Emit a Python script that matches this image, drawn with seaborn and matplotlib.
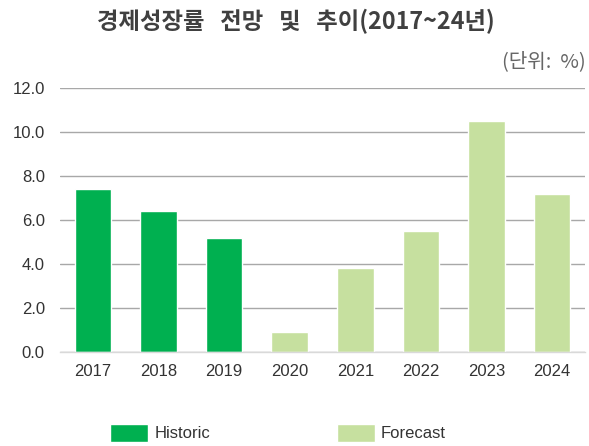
import matplotlib
matplotlib.use("Agg")
import matplotlib.pyplot as plt
from matplotlib.patches import Patch
import seaborn as sns
import pandas as pd

years = ["2017", "2018", "2019", "2020", "2021", "2022", "2023", "2024"]
growth = [7.4, 6.4, 5.2, 0.9, 3.8, 5.5, 10.5, 7.2]
kinds = ["Historic", "Historic", "Historic", "Forecast", "Forecast", "Forecast", "Forecast", "Forecast"]
yticks = [0, 2, 4, 6, 8, 10, 12]

colors = {"Historic": "#00b050", "Forecast": "#c6e09f"}

sns.set_theme(style="white")
plt.rcParams["font.family"] = ["Liberation Sans", "Noto Sans CJK KR", "DejaVu Sans"]

df = pd.DataFrame({"year": years, "growth": growth, "kind": kinds})

fig = plt.figure(figsize=(5.89, 4.46), dpi=100)
ax = fig.add_axes([0.102, 0.2108, 0.891, 0.5919])

sns.barplot(data=df, x="year", y="growth", hue="kind", palette=colors,
            dodge=False, width=0.56, saturation=1, legend=False, ax=ax)

ax.set_ylim(0, 12)
ax.set_xlim(-0.5, 7.5)
ax.set_yticks(yticks)
ax.set_yticklabels([f"{v:.1f}" for v in yticks])
ax.set_xlabel("")
ax.set_ylabel("")
ax.yaxis.grid(True, color="#a8a8a8", linewidth=1.0)
ax.set_axisbelow(True)
for s in ["top", "right", "left"]:
    ax.spines[s].set_visible(False)
ax.spines["bottom"].set_color("#d9d9d9")
ax.spines["bottom"].set_linewidth(1.0)
ax.tick_params(axis="both", length=0, labelsize=12, colors="#333333")
ax.tick_params(axis="y", pad=11)
ax.tick_params(axis="x", pad=9)

fig.text(0.502, 0.953, "경제성장률   전망   및   추이(2017~24년)", ha="center", va="center",
         fontsize=16.8, fontweight="bold", color="#404040",
         family=["Noto Sans CJK KR", "DejaVu Sans"])
fig.text(0.995, 0.861, "(단위:  %)", ha="right", va="center", fontsize=14.5,
         color="#666666", family=["Noto Sans CJK KR", "DejaVu Sans"])

handles = [Patch(facecolor=colors["Historic"], label="Historic"),
           Patch(facecolor=colors["Forecast"], label="Forecast")]
fig.legend(handles=handles, loc="center", bbox_to_anchor=(0.472, 0.03), ncol=2,
           frameon=False, fontsize=12, handlelength=2.3, handleheight=1.3,
           columnspacing=7.6, handletextpad=0.35, labelcolor="#333333")

fig.savefig("out.png", dpi=100)
